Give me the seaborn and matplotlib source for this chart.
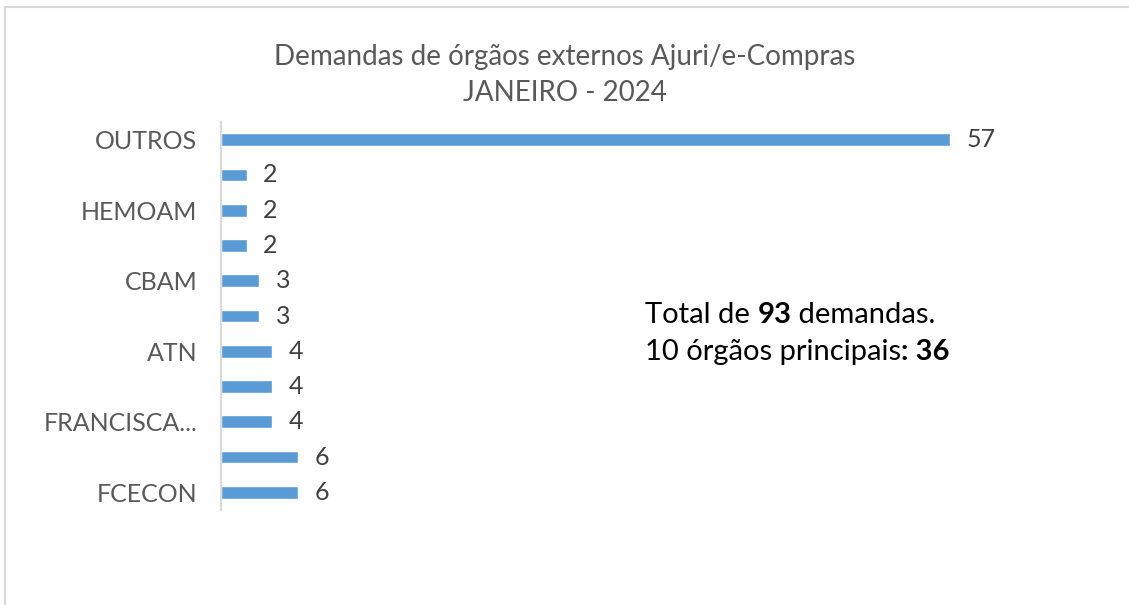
import numpy as np
import pandas as pd
import seaborn as sns
import matplotlib.pyplot as plt
from matplotlib.patches import Rectangle

# categories top -> bottom (Excel skipped every other label)
orgaos = ['OUTROS', 'org2', 'HEMOAM', 'org4', 'CBAM', 'org6', 'ATN', 'org8',
          'FRANCISCA...', 'org10', 'FCECON']
rotulos = ['OUTROS', '', 'HEMOAM', '', 'CBAM', '', 'ATN', '',
           'FRANCISCA...', '', 'FCECON']
demandas = [57, 2, 2, 2, 3, 3, 4, 4, 4, 6, 6]

df = pd.DataFrame({'orgao': orgaos, 'demandas': demandas})

sns.set_style('white')
plt.rcParams['font.family'] = ['Lato', 'DejaVu Sans']

fig = plt.figure(figsize=(11.29, 6.05), dpi=100)
fig.patches.append(Rectangle((5/1129, -0.1), 1.2, (605-7)/605 + 0.1,
                             transform=fig.transFigure, fill=False,
                             edgecolor='#d9d9d9', linewidth=1.5))
ax = fig.add_axes([221/1129, 95/605, 767/1129, 388/605])

sns.barplot(data=df, x='demandas', y='orgao', order=orgaos, color='#5b9bd5',
            saturation=1, width=0.36, ax=ax)
ax.set_xlim(0, 60)
ax.set_ylim(len(orgaos) - 0.5, -0.5)
ax.set_xticks([])
ax.set_yticks(range(len(orgaos)))
ax.set_yticklabels(rotulos, fontsize=18, color='#595959')
ax.tick_params(axis='y', length=0, pad=17)
ax.set_xlabel(''); ax.set_ylabel('')
for s in ['top', 'right', 'bottom']:
    ax.spines[s].set_visible(False)
ax.spines['left'].set_color('#d9d9d9')
ax.spines['left'].set_linewidth(1.5)
ax.bar_label(ax.containers[0], padding=12, fontsize=18, color='#404040')

fig.text(0.5, 1 - 75/605, 'Demandas de órgãos externos Ajuri/e-Compras\nJANEIRO - 2024',
         ha='center', va='center', fontsize=20, color='#595959',
         linespacing=1.45)

# annotation with bold parts
fig.canvas.draw()
r = fig.canvas.get_renderer()
def linha(parts, x0, y):
    x = x0
    for txt, peso in parts:
        t = fig.text(x / 1129, 1 - y / 605, txt, fontsize=21, color='black',
                     weight=peso, va='center', ha='left')
        x += t.get_window_extent(renderer=r).width
linha([('Total de ', 'normal'), ('93', 'bold'), (' demandas.', 'normal')], 645, 315)
linha([('10 órgãos principais', 'normal'), (': 36', 'bold')], 645, 352)

fig.savefig('out.png', dpi=100)
